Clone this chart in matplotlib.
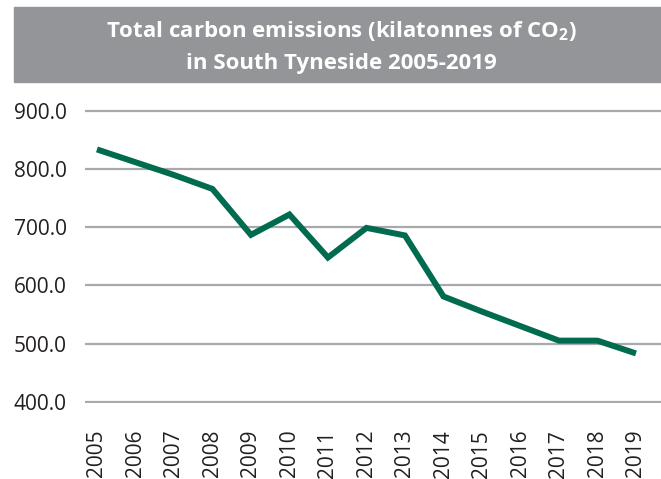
import matplotlib
matplotlib.use("Agg")
from matplotlib import pyplot as plt
from matplotlib.patches import Rectangle

# Chart data
years = ["2005", "2006", "2007", "2008", "2009", "2010", "2011", "2012",
         "2013", "2014", "2015", "2016", "2017", "2018", "2019"]
emissions = [834, 812, 790, 766, 687, 722, 648, 699,
             686, 581, 555, 530, 505, 505, 483]
yTicks = [400, 500, 600, 700, 800, 900]
titleLines = ["Total carbon emissions (kilatonnes of CO$_2$)",
              "in South Tyneside 2005-2019"]

plt.rcParams["font.family"] = ["Open Sans", "DejaVu Sans"]
plt.rcParams["mathtext.default"] = "regular"

W, H = 661, 479
fig = plt.figure(figsize=(W / 100, H / 100), dpi=100)

# Title banner
fig.patches.append(Rectangle((14 / W, 1 - 82 / H), 1 - 14 / W, 75 / H,
                             transform=fig.transFigure, color="#939598", zorder=0))
fig.text(341 / W, 1 - 37 / H, titleLines[0], color="white", fontsize=16,
         fontweight="bold", ha="center", va="baseline")
fig.text(341 / W, 1 - 69 / H, titleLines[1], color="white", fontsize=16,
         fontweight="bold", ha="center", va="baseline")

# Plot area
ax = fig.add_axes([85 / W, 0.1578, 1 - 85 / W, 0.614])
x = list(range(len(years)))
ax.plot(x, emissions, color="#006B4F", linewidth=4.3, solid_capstyle="butt",
        solid_joinstyle="miter", zorder=3)

ax.set_xlim(-0.31, 14.65)
ax.set_ylim(397, 903)
ax.set_yticks(yTicks)
ax.set_yticklabels([f"{v:.1f}" for v in yTicks], fontsize=15, color="#231F20")
ax.set_xticks(x)
ax.set_xticklabels(years, rotation=90, fontsize=15, color="#231F20")
ax.tick_params(axis="both", length=0)
ax.tick_params(axis="y", pad=13)
ax.tick_params(axis="x", pad=19)
ax.grid(axis="y", color="#A7A9AC", linewidth=1.6)
ax.grid(axis="x", visible=False)
for s in ax.spines.values():
    s.set_visible(False)

fig.savefig("out.png", dpi=100)
